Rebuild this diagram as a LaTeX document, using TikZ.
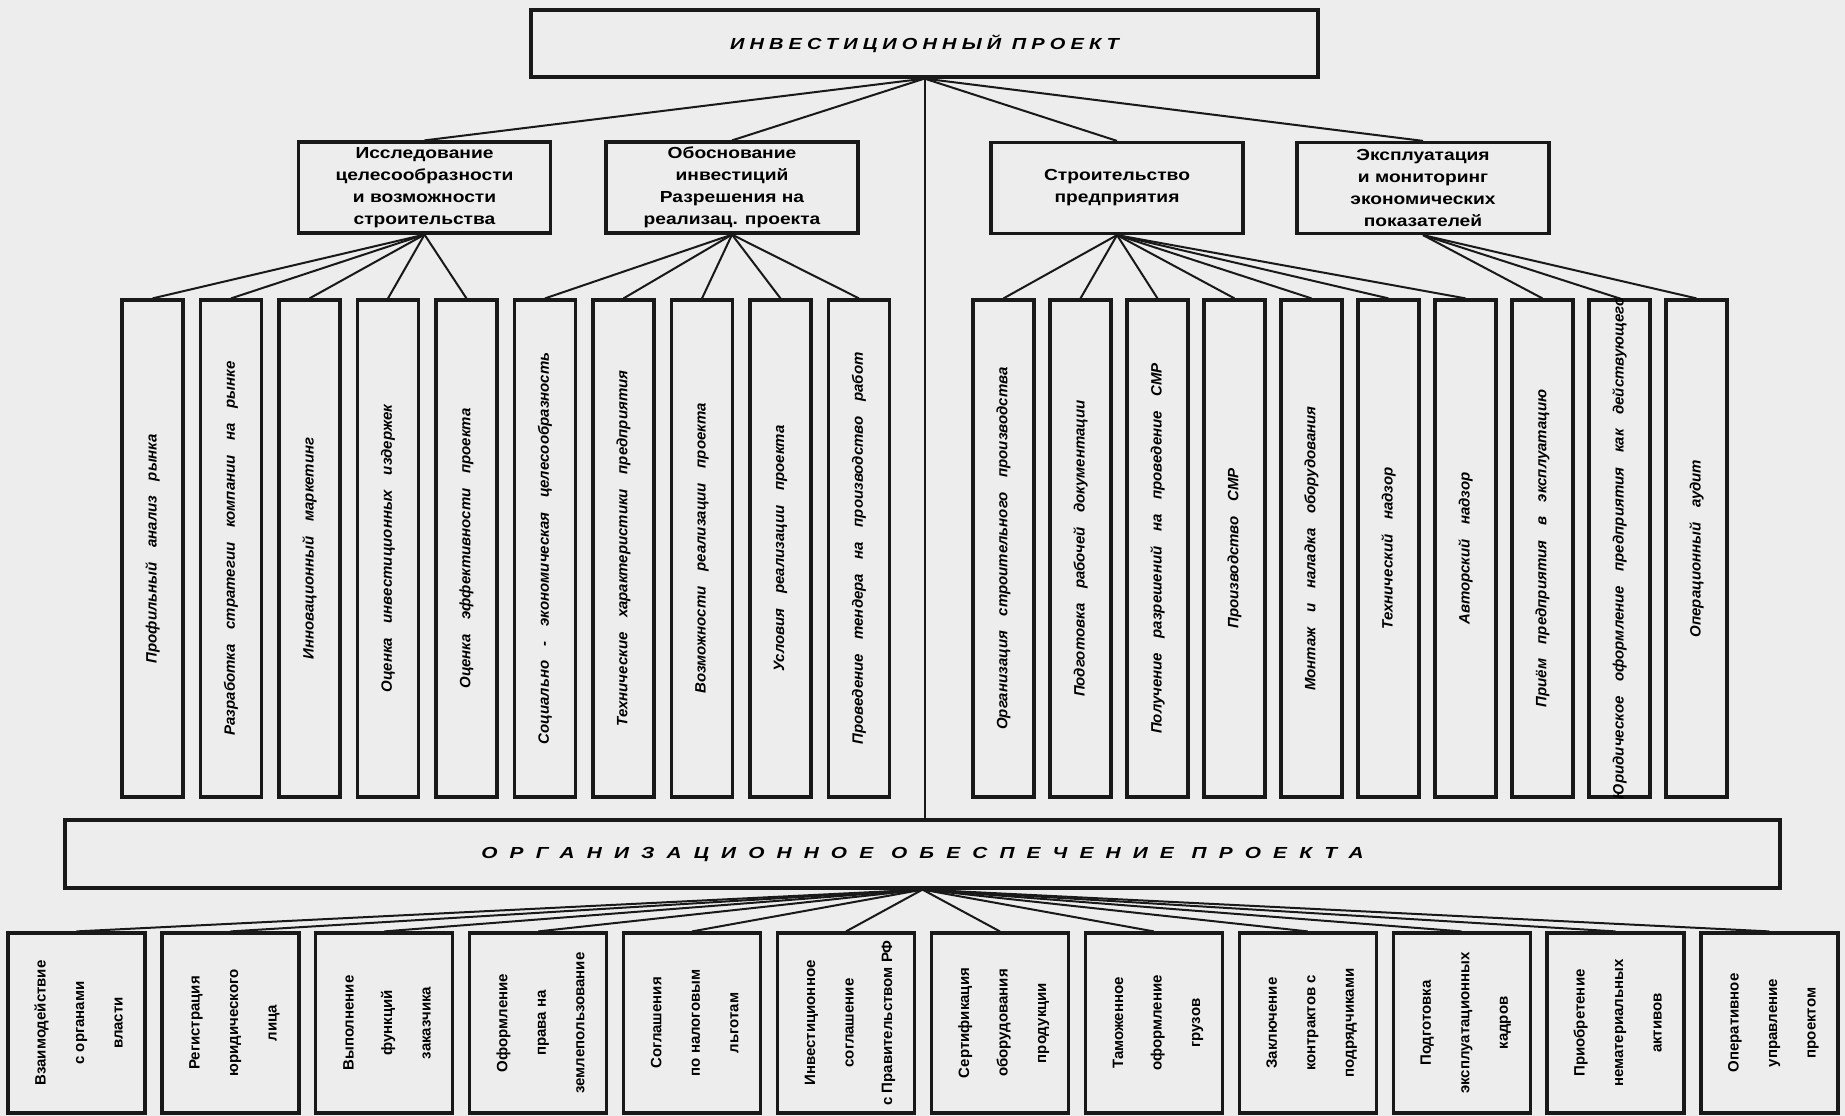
\documentclass[tikz,border=0pt]{standalone}
\usepackage{fontspec}
\setmainfont{Liberation Sans}
\newfontfamily\titlefont[FakeStretch=1.25,LetterSpace=32]{Liberation Sans}
\newfontfamily\orgfont[FakeStretch=1.3,LetterSpace=76]{Liberation Sans}
\newfontfamily\headfont[FakeStretch=1.2]{Liberation Sans}
\newfontfamily\colfont[WordSpace=3.5]{Liberation Sans}
\usepackage{xcolor}
\definecolor{paper}{gray}{0.93}
\definecolor{ink}{gray}{0.1}

\begin{document}
\begin{tikzpicture}[x=1pt,y=-1pt,
    frame/.style={draw=ink,line width=3.2pt,inner sep=0pt},
    headbox/.style={frame,minimum width=252pt,minimum height=91pt,align=center,
      font=\headfont\bfseries\fontsize{16}{22}\selectfont},
    colbox/.style={frame,minimum width=61pt,minimum height=497pt,
      font=\colfont\bfseries\itshape\fontsize{15}{18}\selectfont},
    botbox/.style={frame,minimum width=137pt,minimum height=180pt,
      font=\bfseries\fontsize{15}{38.5}\selectfont},
    conn/.style={draw=ink,line width=2pt}]
  \fill[paper] (0,0) rectangle (1845,1116);
  \useasboundingbox (0,0) rectangle (1845,1116);

  \node[frame,minimum width=787pt,minimum height=67pt,
    font=\titlefont\bfseries\itshape\fontsize{16}{19}\selectfont] (top) at (924.5,43.5) {ИНВЕСТИЦИОННЫЙ ПРОЕКТ};

  \node[headbox] (A) at (424.5,187.5) {Исследование\\целесообразности\\и возможности\\строительства};
  \node[headbox] (B) at (732,187.5) {Обоснование\\инвестиций\\Разрешения на\\реализац. проекта};
  \node[headbox] (C) at (1117,188) {Строительство\\предприятия};
  \node[headbox] (D) at (1423,188) {Эксплуатация\\и мониторинг\\экономических\\показателей};

  \foreach \txt [count=\i] in {Профильный анализ рынка,Разработка стратегии компании на рынке,
      Инновационный маркетинг,Оценка инвестиционных издержек,Оценка эффективности проекта,
      Социально - экономическая целесообразность,Технические характеристики предприятия,
      Возможности реализации проекта,Условия реализации проекта,Проведение тендера на производство работ}
    \node[colbox] (c-\i) at ({152.5+78.5*(\i-1)},548.5) {\rotatebox{90}{\makebox[0pt]{\txt}}};
  \foreach \txt [count=\i from 11] in {Организация строительного производства,Подготовка рабочей документации,
      Получение разрешений на проведение СМР,Производство СМР,Монтаж и наладка оборудования,
      Технический надзор,Авторский надзор,Приём предприятия в эксплуатацию,
      Юридическое оформление предприятия как действующего,Операционный аудит}
    \node[colbox] (c-\i) at ({1003.5+77*(\i-11)},548.5) {\rotatebox{90}{\makebox[0pt]{\txt}}};

  \node[frame,minimum width=1715pt,minimum height=68pt,
    font=\orgfont\bfseries\itshape\fontsize{16}{19}\selectfont] (org) at (922.5,854) {ОРГАНИЗАЦИОННОЕ ОБЕСПЕЧЕНИЕ ПРОЕКТА};

  \foreach \a/\b/\c [count=\i] in {Взаимодействие/с органами/власти,Регистрация/юридического/лица,
      Выполнение/функций/заказчика,Оформление/права на/землепользование,
      Соглашения/по налоговым/льготам,Инвестиционное/соглашение/с Правительством РФ,
      Сертификация/оборудования/продукции,Таможенное/оформление/грузов,
      Заключение/контрактов с/подрядчиками,Подготовка/эксплуатационных/кадров,
      Приобретение/нематериальных/активов,Оперативное/управление/проектом}
    \node[botbox] (b-\i) at ({76.5+153.9*(\i-1)},1023) {\rotatebox{90}{\begin{tabular}{@{}c@{}}\a\\\b\\\c\end{tabular}}};

  \path[conn] (top.south) edge (A.north) edge (B.north) edge (C.north) edge (D.north);
  \draw[conn] (top.south) -- (top.south |- org.north);
  \foreach \i in {1,...,5} \path[conn] (A.south) edge (c-\i.north);
  \foreach \i in {6,...,10} \path[conn] (B.south) edge (c-\i.north);
  \foreach \i in {11,...,17} \path[conn] (C.south) edge (c-\i.north);
  \foreach \i in {18,19,20} \path[conn] (D.south) edge (c-\i.north);
  \foreach \i in {1,...,12} \path[conn] (org.south) edge (b-\i.north);
\end{tikzpicture}
\end{document}
